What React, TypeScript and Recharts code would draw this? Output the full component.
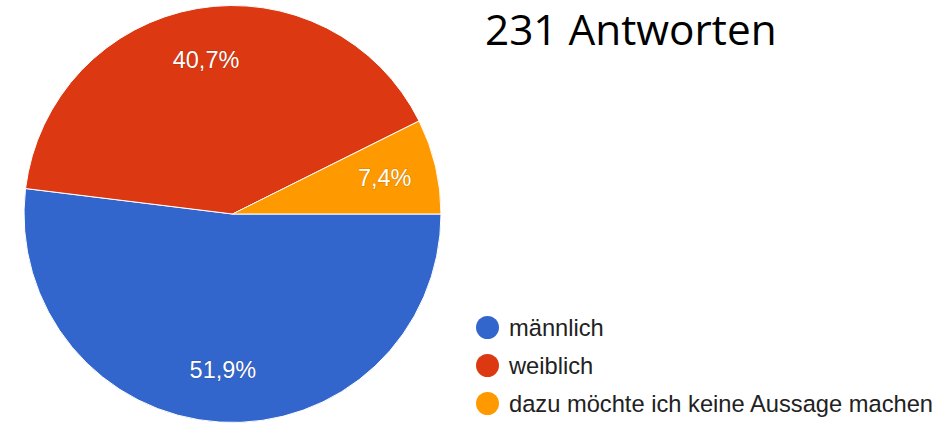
import React from 'react';
import { PieChart, Pie, Cell, Legend } from 'recharts';

const categories = ['männlich', 'weiblich', 'dazu möchte ich keine Aussage machen'];
const counts = [120, 94, 17];
const percentLabels = ['51,9%', '40,7%', '7,4%'];
const colors = ['#3366CC', '#DC3912', '#FF9900'];
const title = '231 Antworten';

const data = categories.map((name, i) => ({ name, value: counts[i], label: percentLabels[i] }));

const RADIAN = Math.PI / 180;

const renderLabel = (props: any) => {
  const { cx, cy, midAngle, outerRadius, index } = props;
  const r = outerRadius * 0.75;
  const x = cx + r * Math.cos(-midAngle * RADIAN);
  const y = cy + r * Math.sin(-midAngle * RADIAN);
  return (
    <text
      x={x}
      y={y}
      fill="#fff"
      stroke="rgba(0,0,0,0.22)"
      strokeWidth={1}
      paintOrder="stroke"
      textAnchor="middle"
      dominantBaseline="central"
      style={{ fontFamily: 'Liberation Sans, Arial, sans-serif', fontSize: 23.5 }}
    >
      {data[index].label}
    </text>
  );
};

const renderLegend = () => (
  <div>
    {categories.map((name, i) => (
      <div key={name} style={{ display: 'flex', alignItems: 'center', height: 37.7 }}>
        <span
          style={{
            width: 23,
            height: 23,
            borderRadius: '50%',
            background: colors[i],
            display: 'inline-block',
            marginRight: 10.5,
            flexShrink: 0,
          }}
        />
        <span style={{ fontFamily: 'Liberation Sans, Arial, sans-serif', fontSize: 23.7, color: '#222', whiteSpace: 'nowrap', position: 'relative', top: 1 }}>
          {name}
        </span>
      </div>
    ))}
  </div>
);

export default function App() {
  return (
    <div style={{ position: 'absolute', left: 0, top: 0, width: 946, height: 425, background: '#fff' }}>
      <PieChart width={946} height={425} margin={{ top: 0, right: 0, bottom: 0, left: 0 }}>
        <Pie
          data={data}
          dataKey="value"
          nameKey="name"
          cx={232.5}
          cy={214}
          outerRadius={208.5}
          startAngle={0}
          endAngle={-360}
          stroke="#fff"
          strokeWidth={1}
          label={renderLabel}
          labelLine={false}
          isAnimationActive={false}
        >
          {data.map((d, i) => (
            <Cell key={d.name} fill={colors[i]} />
          ))}
        </Pie>
        <Legend
          content={renderLegend}
          wrapperStyle={{ position: 'absolute', left: 475.5, top: 309, width: 470, bottom: 'auto' }}
        />
      </PieChart>
      <div
        style={{
          position: 'absolute',
          left: 485,
          top: 0,
          fontFamily: 'Open Sans, sans-serif',
          fontSize: 42.3,
          lineHeight: 'normal',
          color: '#000',
          whiteSpace: 'nowrap',
        }}
      >
        {title}
      </div>
    </div>
  );
}
